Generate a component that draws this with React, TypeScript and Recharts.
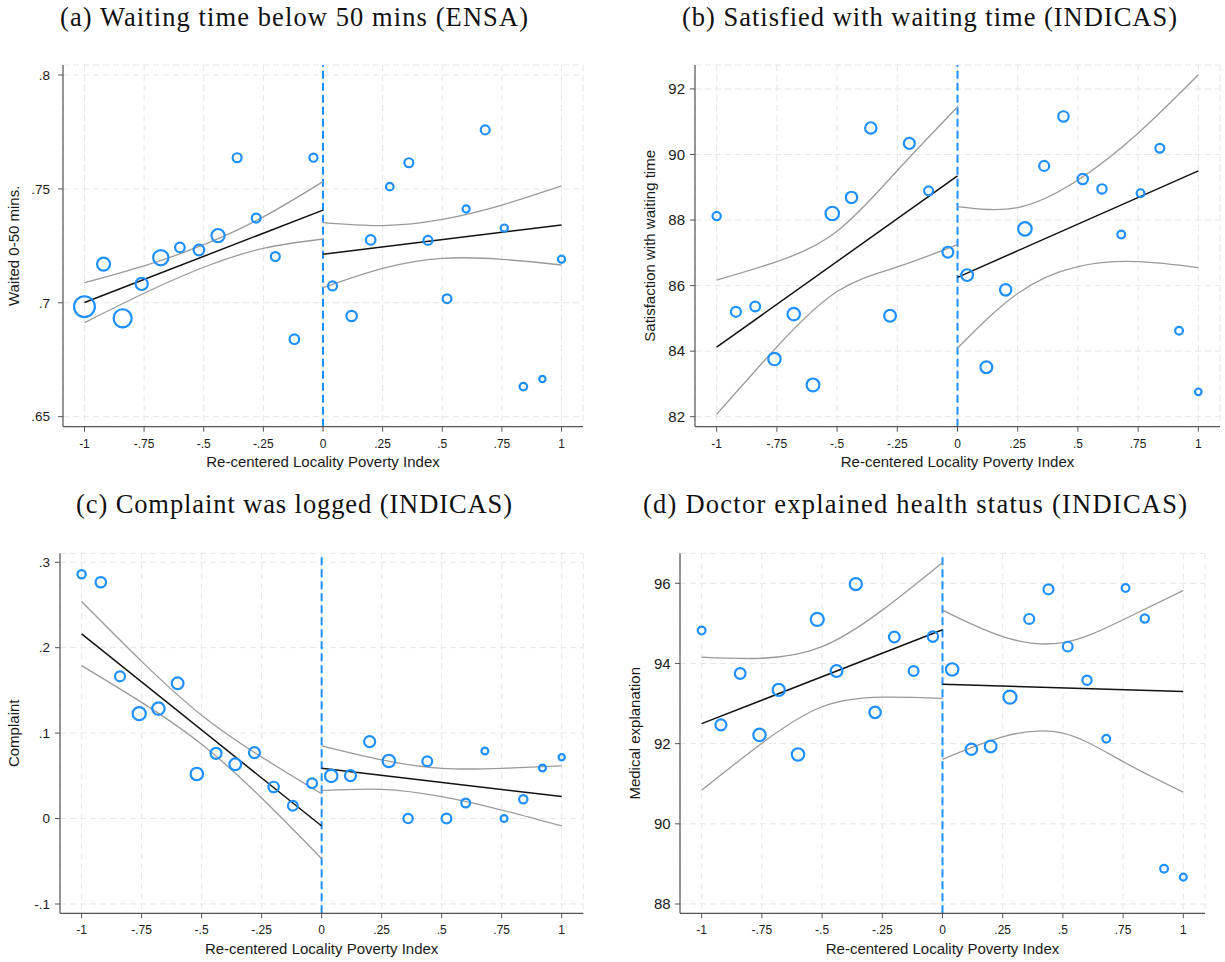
import React from 'react';
import {
  ComposedChart, Scatter, Line, XAxis, YAxis, ZAxis, CartesianGrid, ReferenceLine
} from 'recharts';

// bins of the re-centered poverty index
const binX = [
  -1, -0.92, -0.84, -0.76, -0.68, -0.6, -0.52, -0.44, -0.36, -0.28, -0.2, -0.12, -0.04,
  0.04, 0.12, 0.2, 0.28, 0.36, 0.44, 0.52, 0.6, 0.68, 0.76, 0.84, 0.92, 1,
];
const xTicks = [-1, -0.75, -0.5, -0.25, 0, 0.25, 0.5, 0.75, 1];
const fitXLeft = [-1, 0];
const fitXRight = [0, 1];
const ciXLeft = [-1, -0.75, -0.5, -0.25, 0];
const ciXRight = [0, 0.25, 0.5, 0.75, 1];

// (a) waited 0-50 mins (ENSA)
const waitVals = [
  0.6983, 0.717, 0.6932, 0.7083, 0.7198, 0.7243, 0.7232, 0.7295, 0.7637, 0.7372, 0.7203, 0.684, 0.7637,
  0.7074, 0.6942, 0.7276, 0.751, 0.7615, 0.7274, 0.7018, 0.7412, 0.7759, 0.7328, 0.6632, 0.6665, 0.7191,
];
const waitObs = [151, 59, 114, 52, 81, 32, 40, 61, 28, 28, 28, 32, 23, 28, 38, 32, 20, 28, 28, 27, 18, 28, 18, 20, 14, 18];
const waitFitL = [0.7001, 0.7407];
const waitFitR = [0.7213, 0.7342];
const waitHiL = [0.7088, 0.7162, 0.7255, 0.7377, 0.7532];
const waitLoL = [0.6913, 0.7042, 0.7156, 0.7239, 0.728];
const waitHiR = [0.7352, 0.7339, 0.7366, 0.7429, 0.7513];
const waitLoR = [0.7066, 0.7151, 0.7195, 0.7191, 0.7166];

// (b) satisfaction with waiting time (INDICAS)
const satVals = [
  88.12, 85.2, 85.36, 83.76, 85.13, 82.97, 88.2, 88.69, 90.81, 85.08, 90.34, 88.89, 87.02,
  86.32, 83.51, 85.87, 87.73, 89.65, 91.16, 89.25, 88.95, 87.56, 88.82, 90.19, 84.62, 82.76,
];
const satObs = [16, 23, 22, 36, 36, 38, 42, 30, 30, 32, 28, 18, 27, 32, 32, 30, 42, 23, 25, 25, 20, 14, 14, 18, 14, 10];
const satFitL = [84.12, 89.35];
const satFitR = [86.25, 89.5];
const satHiL = [86.17, 86.73, 87.66, 89.51, 91.45];
const satLoL = [82.07, 84.13, 85.82, 86.57, 87.25];
const satHiR = [88.41, 88.38, 89.22, 90.65, 92.43];
const satLoR = [84.09, 85.76, 86.58, 86.73, 86.55];

// (c) complaint was logged (INDICAS)
const compVals = [
  0.286, 0.2766, 0.1665, 0.1228, 0.1287, 0.1583, 0.0522, 0.0764, 0.0635, 0.0772, 0.037, 0.0151, 0.0413,
  0.0499, 0.0502, 0.09, 0.0674, 0, 0.067, 0, 0.0182, 0.0791, 0, 0.0225, 0.0592, 0.0717,
];
const compObs = [16, 25, 23, 40, 36, 32, 36, 28, 32, 28, 25, 22, 22, 36, 28, 28, 36, 20, 22, 22, 18, 11, 11, 16, 11, 9];
const compFitL = [0.2161, -0.0087];
const compFitR = [0.0588, 0.0257];
const compHiL = [0.254, 0.184, 0.121, 0.072, 0.029];
const compLoL = [0.179, 0.136, 0.087, 0.024, -0.047];
const compHiR = [0.085, 0.0686, 0.0588, 0.0588, 0.0616];
const compLoR = [0.0327, 0.0342, 0.0257, 0.01, -0.0087];

// (d) doctor explained health status (INDICAS)
const medVals = [
  94.82, 92.47, 93.75, 92.22, 93.34, 91.73, 95.1, 93.81, 95.98, 92.78, 94.66, 93.81, 94.67,
  93.85, 91.86, 91.93, 93.16, 95.11, 95.85, 94.42, 93.58, 92.12, 95.88, 95.12, 88.88, 88.67,
];
const medObs = [14, 28, 27, 36, 34, 36, 40, 32, 34, 30, 27, 22, 25, 36, 30, 32, 40, 23, 23, 22, 20, 14, 14, 16, 14, 11];
const medFitL = [92.5, 94.84];
const medFitR = [93.48, 93.3];
const medHiL = [94.16, 94.13, 94.42, 95.33, 96.52];
const medLoL = [90.84, 92.01, 92.92, 93.16, 93.13];
const medHiR = [95.33, 94.67, 94.52, 95.09, 95.82];
const medLoR = [91.61, 92.17, 92.26, 91.55, 90.79];

const BLUE = '#1E90FF';
const SANS = "'Liberation Sans', Arial, sans-serif";

const fmt = (v: number) => String(Math.round(v * 1000) / 1000).replace(/^(-?)0\./, '$1.');
const rows = (xs: number[], ys: number[]) => xs.map((x, i) => ({ x, y: ys[i] }));

const Ring = (p: any) => {
  const r = p.size ? Math.sqrt(p.size / Math.PI) : (p.width ? p.width / 2 : 5);
  return <circle cx={p.cx} cy={p.cy} r={r} fill="none" stroke={BLUE} strokeWidth={2.2} />;
};

const YLabel = ({ viewBox, text, dist }: any) => {
  if (!viewBox) return null;
  const x = viewBox.x + viewBox.width - dist + 5.4;
  const y = viewBox.y + viewBox.height / 2;
  return (
    <text x={x} y={y} transform={`rotate(-90, ${x}, ${y})`} textAnchor="middle"
      fontFamily={SANS} fontSize={15} fill="#1a1a1a">{text}</text>
  );
};

const XLabel = ({ viewBox }: any) => {
  if (!viewBox) return null;
  return (
    <text x={viewBox.x + viewBox.width / 2} y={viewBox.y + 40.3} textAnchor="middle"
      fontFamily={SANS} fontSize={15} fill="#1a1a1a">Re-centered Locality Poverty Index</text>
  );
};

interface PanelProps {
  left: number; top: number; width: number; height: number;
  yw: number; mt: number; mr: number; xh: number;
  yTickMargin: number; yFont: number; yLabelDist: number;
  yLabel: string; yTicks: number[]; yDomain: [number, number];
  vals: number[]; obs: number[];
  fitL: number[]; fitR: number[];
  hiL: number[]; loL: number[]; hiR: number[]; loR: number[];
}

const Panel: React.FC<PanelProps> = (c) => {
  const pts = binX.map((x, i) => ({ x, y: c.vals[i], n: c.obs[i] }));
  const ci = [
    rows(ciXLeft, c.hiL), rows(ciXLeft, c.loL), rows(ciXRight, c.hiR), rows(ciXRight, c.loR),
  ];
  return (
    <div style={{ position: 'absolute', left: c.left, top: c.top }}>
      <ComposedChart width={c.width} height={c.height} margin={{ top: c.mt, right: c.mr, bottom: 0, left: 0 }}>
        <CartesianGrid stroke="#e6e6e6" strokeDasharray="6 4" />
        <XAxis type="number" dataKey="x" domain={[-1.09, 1.09]} allowDataOverflow ticks={xTicks} interval={0}
          tickFormatter={fmt} height={c.xh} tickSize={5} tickMargin={7.5}
          axisLine={{ stroke: '#555', strokeWidth: 1.2 }} tickLine={{ stroke: '#555' }}
          tick={{ fill: '#1a1a1a', fontSize: 12, fontFamily: SANS }} label={<XLabel />} />
        <YAxis type="number" dataKey="y" domain={c.yDomain} allowDataOverflow ticks={c.yTicks} interval={0}
          tickFormatter={fmt} width={c.yw} tickSize={5} tickMargin={c.yTickMargin}
          axisLine={{ stroke: '#555', strokeWidth: 1.2 }} tickLine={{ stroke: '#555' }}
          tick={{ fill: '#1a1a1a', fontSize: c.yFont, fontFamily: SANS }}
          label={<YLabel text={c.yLabel} dist={c.yLabelDist} />} />
        <ZAxis type="number" dataKey="n" domain={[0, 100]} range={[0, 108 * Math.PI]} />
        <ReferenceLine x={0} stroke={BLUE} strokeWidth={2} strokeDasharray="8 4" />
        {ci.map((d, i) => (
          <Line key={i} data={d} dataKey="y" type="natural" stroke="#9a9a9a" strokeWidth={1.3}
            dot={false} activeDot={false} isAnimationActive={false} />
        ))}
        <Line data={rows(fitXLeft, c.fitL)} dataKey="y" type="linear" stroke="#111" strokeWidth={1.5}
          dot={false} activeDot={false} isAnimationActive={false} />
        <Line data={rows(fitXRight, c.fitR)} dataKey="y" type="linear" stroke="#111" strokeWidth={1.5}
          dot={false} activeDot={false} isAnimationActive={false} />
        <Scatter data={pts} shape={Ring} isAnimationActive={false} />
      </ComposedChart>
    </div>
  );
};

const titles = [
  { text: '(a) Waiting time below 50 mins (ENSA)', cx: 294, y: 26, w: 468 },
  { text: '(b) Satisfied with waiting time (INDICAS)', cx: 929.5, y: 26, w: 495 },
  { text: '(c) Complaint was logged (INDICAS)', cx: 294, y: 513, w: 436 },
  { text: '(d) Doctor explained health status (INDICAS)', cx: 915, y: 513, w: 544 },
];

export default function App() {
  return (
    <div style={{ position: 'absolute', left: 0, top: 0, width: 1225, height: 962, background: '#fff' }}>
      <svg width={1225} height={962} style={{ position: 'absolute', left: 0, top: 0 }}>
        {titles.map((t) => (
          <text key={t.text} x={t.cx} y={t.y} textAnchor="middle" fontFamily="'Liberation Serif', serif"
            fontSize={26.5} fill="#111" textLength={t.w} lengthAdjust="spacing">{t.text}</text>
        ))}
      </svg>
      <Panel left={0} top={40} width={600} height={440} yw={63} mt={25} mr={17} xh={53.3}
        yTickMargin={8} yFont={13.5} yLabelDist={49} yLabel="Waited 0-50 mins."
        yTicks={[0.65, 0.7, 0.75, 0.8]} yDomain={[0.6456, 0.8044]}
        vals={waitVals} obs={waitObs} fitL={waitFitL} fitR={waitFitR}
        hiL={waitHiL} loL={waitLoL} hiR={waitHiR} loR={waitLoR} />
      <Panel left={620} top={40} width={605} height={440} yw={75} mt={25} mr={5} xh={53.3}
        yTickMargin={5} yFont={15} yLabelDist={45} yLabel="Satisfaction with waiting time"
        yTicks={[82, 84, 86, 88, 90, 92]} yDomain={[81.695, 92.73]}
        vals={satVals} obs={satObs} fitL={satFitL} fitR={satFitR}
        hiL={satHiL} loL={satLoL} hiR={satHiR} loR={satLoR} />
      <Panel left={0} top={528} width={600} height={434} yw={60} mt={25.3} mr={16.7} xh={48.7}
        yTickMargin={5} yFont={13.5} yLabelDist={46} yLabel="Complaint"
        yTicks={[-0.1, 0, 0.1, 0.2, 0.3]} yDomain={[-0.1109, 0.3105]}
        vals={compVals} obs={compObs} fitL={compFitL} fitR={compFitR}
        hiL={compHiL} loL={compLoL} hiR={compHiR} loR={compLoR} />
      <Panel left={620} top={528} width={605} height={434} yw={60} mt={25.3} mr={20} xh={48.7}
        yTickMargin={4.3} yFont={15} yLabelDist={45} yLabel="Medical explanation"
        yTicks={[88, 90, 92, 94, 96]} yDomain={[87.768, 96.748]}
        vals={medVals} obs={medObs} fitL={medFitL} fitR={medFitR}
        hiL={medHiL} loL={medLoL} hiR={medHiR} loR={medLoR} />
    </div>
  );
}
